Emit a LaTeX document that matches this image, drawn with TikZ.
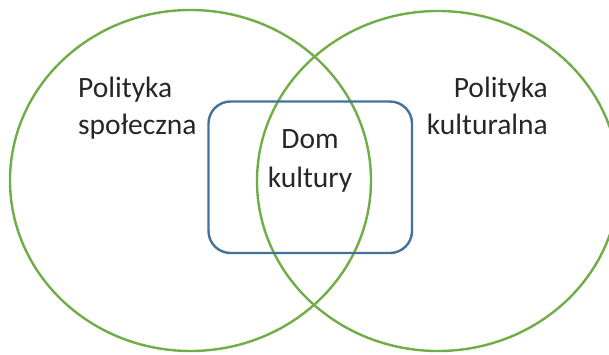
\documentclass[tikz,border=0pt]{standalone}
\usepackage{fontspec}
\setmainfont{Carlito}
\definecolor{vgreen}{HTML}{70AD47}
\definecolor{vblue}{HTML}{41719C}
\begin{document}
\begin{tikzpicture}[x=1pt,y=-1pt,
  ring/.style={draw=vgreen,line width=2.4pt},
  box/.style={draw=vblue,line width=2.4pt,rounded corners=22pt},
  lbl/.style={font=\fontsize{29.5}{37}\selectfont,inner sep=0pt,text=black!85}]
\useasboundingbox (0,0) rectangle (609,355);
\draw[ring] (190.5,180.5) ellipse [x radius=180.5, y radius=170.5];
\draw[ring] (438,181) ellipse [x radius=181, y radius=170];
\draw[box] (208.5,101.5) rectangle (412,253);
\node[lbl,align=left,anchor=base west] (spol) at (78,135) {Polityka\\społeczna};
\node[lbl,align=right,anchor=base east] (kult) at (548,135) {Polityka\\kulturalna};
\node[lbl,align=center,anchor=base] (dom) at (310,187) {Dom\\[1pt]kultury};
\end{tikzpicture}
\end{document}
